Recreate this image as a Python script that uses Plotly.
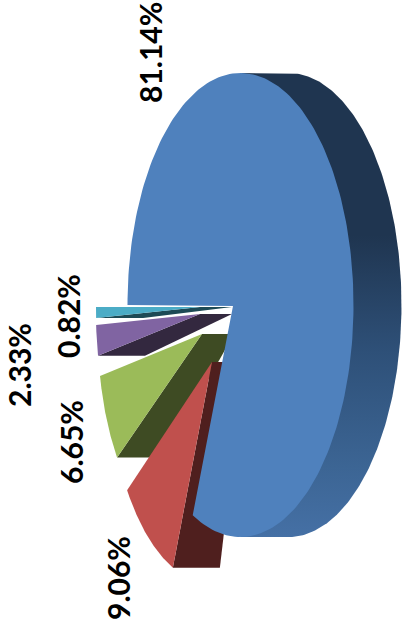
import numpy as np
import plotly.graph_objects as go

# Data
slice_labels = ["81.14%", "9.06%", "6.65%", "2.33%", "0.82%"]
slice_values = [81.14, 9.06, 6.65, 2.33, 0.82]

# Style
face_colors = ["#4f81bd", "#c0504d", "#9bbb59", "#8064a2", "#4bacc6"]
wall_colors = ["#1f3550", "#4f1f1e", "#3e4b23", "#33283f", "#1d4a55"]

W, H = 402, 631
A, B = 113.0, 232.0          # main face radii
CX, CY = 240.5, 305.0        # main face centre
DEPTH = 48.0
EA = 104.0                   # horizontal radius of exploded slices
EB = {1: 222.0, 2: 214.0, 3: 212.0, 4: 212.0}
APEX = {1: (212, 362), 2: (202, 334), 3: (200, 314), 4: (200, 307)}

fracs = np.array(slice_values) / sum(slice_values) * 360
starts = np.cumsum(np.r_[0, fracs[:-1]])
ends = starts + fracs


def arc(cx, cy, a, b, t0, t1, n=80):
    t = np.radians(np.linspace(t0, t1, n))
    return cx - a * np.cos(t), cy - b * np.sin(t)


fig = go.Figure()


def poly(x, y, color=None, gradient=None):
    kw = dict(fillgradient=gradient) if gradient else dict(fillcolor=color)
    fig.add_trace(go.Scatter(x=list(x) + [x[0]], y=list(y) + [y[0]], mode="lines",
                             fill="toself", line=dict(width=0, color="rgba(0,0,0,0)"),
                             hoverinfo="skip", showlegend=False, **kw))


# exploded slices: innermost first so that the lower ones overlap
for i in [4, 3, 2, 1]:
    ax, ay = APEX[i]
    ox, oy = arc(ax, ay, EA, EB[i], starts[i], ends[i])
    poly([ox[0], ax, ax + 32, ox[0] + 47], [oy[0], ay, ay, oy[0]], wall_colors[i])
    poly(np.r_[ax, ox], np.r_[ay, oy], face_colors[i])

# blue wall: darkest at the top of the picture
wall_gradient = dict(type="vertical",
                     colorscale=[[0, "#4570a5"], [0.15, "#3c6594"], [0.4, "#2e5078"],
                                 [0.65, "#1f3550"], [1, "#1f3550"]])
bx, by = arc(CX + DEPTH, CY, A, B, 90, 270, 200)
poly(np.r_[CX, bx, CX], np.r_[CY - B, by, CY + B], gradient=wall_gradient)

# blue face
ax, ay = arc(CX, CY, A, B, 0, ends[0] * 1.01, 200)
poly(np.r_[233, ax], np.r_[306, ay], face_colors[0])

label_pos = [(150, 53), (118, 578), (71, 442), (19, 365), (68, 316)]
for t, (x, y) in zip(slice_labels, label_pos):
    fig.add_annotation(x=x, y=y, text=f"<b>{t}</b>", showarrow=False, textangle=-90,
                       font=dict(family="Lato", size=30, color="#000000", weight=900))

fig.update_layout(
    width=W, height=H, margin=dict(l=0, r=0, t=0, b=0), autosize=False,
    paper_bgcolor="white", plot_bgcolor="white", showlegend=False,
    xaxis=dict(range=[0, W], visible=False, fixedrange=True),
    yaxis=dict(range=[H, 0], visible=False, fixedrange=True),
)
fig.write_html("out.html", config=dict(displayModeBar=False),
               post_script="document.body.style.margin='0';document.documentElement.style.overflow='hidden';")
